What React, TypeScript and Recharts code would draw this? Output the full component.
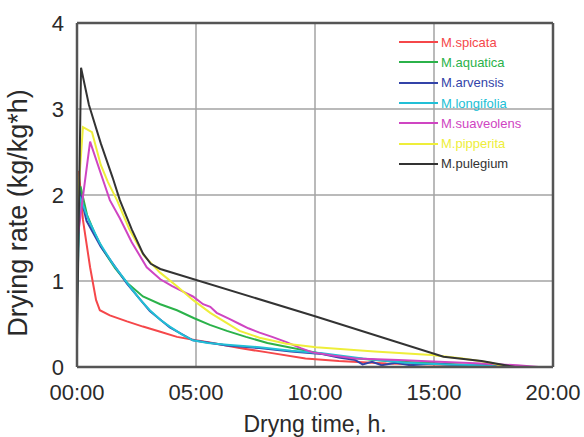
import * as React from 'react';
import {
    CartesianGrid,
    Line,
    LineChart,
    ReferenceLine,
    XAxis,
    YAxis,
} from 'recharts';

// [time in hours, drying rate kg/kg*h]
const spicata: [number, number][] = [
    [0, 1.6], [0.08, 2.28], [0.25, 1.71], [0.55, 1.16], [0.8, 0.78], [0.96, 0.66],
    [1.38, 0.6], [2.1, 0.53], [2.77, 0.47], [3.5, 0.41], [4.2, 0.35], [5.0, 0.31],
    [5.7, 0.28], [6.83, 0.22], [8.0, 0.17], [9.6, 0.1], [11.0, 0.07], [13.0, 0.04],
    [15.0, 0.03], [16.5, 0.02], [18.0, 0.0],
];
const aquatica: [number, number][] = [
    [0, 1.1], [0.15, 2.1], [0.42, 1.77], [0.75, 1.55], [1.1, 1.36], [1.6, 1.15],
    [2.1, 0.98], [2.77, 0.82], [3.5, 0.73], [4.2, 0.66], [4.9, 0.57], [5.58, 0.49],
    [6.3, 0.42], [7.1, 0.35], [8.0, 0.28], [8.9, 0.23], [10.0, 0.17], [11.0, 0.12],
    [13.0, 0.07], [15.2, 0.04], [16.8, 0.02], [18.0, 0.0],
];
const arvensis: [number, number][] = [
    [0, 1.5], [0.1, 2.05], [0.4, 1.7], [1.0, 1.4], [2.1, 0.97], [3.06, 0.65],
    [3.9, 0.46], [4.87, 0.31], [6.3, 0.25], [7.67, 0.22], [9.0, 0.18], [10.3, 0.15],
    [11.0, 0.11], [11.7, 0.08], [12.0, 0.03], [12.4, 0.06], [12.8, 0.02], [13.4, 0.05],
    [14.0, 0.02], [15.0, 0.04], [16.0, 0.02], [17.0, 0.03], [18.0, 0.0],
];
const longifolia: [number, number][] = [
    [0, 0.8], [0.12, 1.98], [0.5, 1.7], [0.96, 1.44], [1.5, 1.2], [2.1, 0.98],
    [2.6, 0.8], [3.06, 0.66], [3.5, 0.55], [3.9, 0.47], [4.4, 0.38], [4.87, 0.31],
    [5.5, 0.28], [6.3, 0.26], [7.67, 0.23], [9.0, 0.19], [10.3, 0.16], [12.0, 0.1],
    [13.8, 0.05], [15.5, 0.03], [17.0, 0.02], [18.0, 0.0],
];
const suaveolens: [number, number][] = [
    [0, 1.44], [0.25, 1.98], [0.55, 2.62], [1.0, 2.25], [1.38, 1.94], [1.8, 1.73],
    [2.3, 1.45], [2.93, 1.16], [3.5, 1.02], [4.0, 0.94], [4.5, 0.87], [4.87, 0.82],
    [5.3, 0.73], [5.6, 0.7], [5.87, 0.63], [6.4, 0.56], [6.83, 0.5], [7.2, 0.45],
    [7.67, 0.4], [8.2, 0.35], [8.8, 0.29], [9.4, 0.22], [9.9, 0.17], [10.8, 0.13],
    [11.7, 0.1], [13.5, 0.08], [15.2, 0.06], [17.0, 0.04], [18.5, 0.02], [19.4, 0.0],
];
const pipperita: [number, number][] = [
    [0, 1.8], [0.25, 2.79], [0.63, 2.73], [1.0, 2.35], [1.3, 2.15], [1.68, 1.94],
    [2.2, 1.6], [2.8, 1.3], [3.48, 1.1], [4.2, 0.94], [4.87, 0.78], [5.6, 0.63],
    [6.3, 0.51], [6.83, 0.42], [7.67, 0.34], [8.8, 0.27], [10.05, 0.23], [12.5, 0.18],
    [14.9, 0.14], [16.2, 0.1], [17.4, 0.05], [18.0, 0.0],
];
const pulegium: [number, number][] = [
    [0, 0.3], [0.17, 3.48], [0.5, 3.05], [1.0, 2.6], [1.5, 2.2], [1.8, 1.94],
    [2.3, 1.6], [2.77, 1.32], [3.1, 1.2], [3.5, 1.14], [10.0, 0.59], [15.4, 0.12],
    [17.0, 0.07], [18.4, 0.0],
];

const SERIES = [
    { name: 'M.spicata', color: '#f5474a', points: spicata },
    { name: 'M.aquatica', color: '#2bb24a', points: aquatica },
    { name: 'M.arvensis', color: '#3343a8', points: arvensis },
    { name: 'M.longifolia', color: '#22bfd6', points: longifolia },
    { name: 'M.suaveolens', color: '#cf45c2', points: suaveolens },
    { name: 'M.pipperita', color: '#eeee3a', points: pipperita },
    { name: 'M.pulegium', color: '#333333', points: pulegium },
];

const X_TICKS = [0, 5, 10, 15, 20];
const X_TICK_LABELS = ['00:00', '05:00', '10:00', '15:00', '20:00'];
const Y_TICKS = [0, 1, 2, 3, 4];

const FONT = '"Liberation Sans", Arial, sans-serif';
const TEXT = '#2a2a2a';

function YTitle(props: any) {
    const vb = props.viewBox || { x: 0, y: 0, width: 0, height: 0 };
    const cx = 18;
    const cy = vb.y + vb.height / 2 + 18;
    return (
        <text
            x={cx}
            y={cy}
            transform={`rotate(-90, ${cx}, ${cy})`}
            textAnchor="middle"
            dominantBaseline="central"
            fontSize={27}
            fill={TEXT}
            fontFamily={FONT}
        >
            Drying rate (kg/kg*h)
        </text>
    );
}

function MintLegend() {
    return (
        <div
            style={{
                position: 'absolute',
                left: 399,
                top: 32,
                fontFamily: FONT,
                fontSize: 13,
                pointerEvents: 'none',
            }}
        >
            {SERIES.map((s) => (
                <div
                    key={s.name}
                    style={{ display: 'flex', alignItems: 'center', height: 20.3, color: s.color }}
                >
                    <span
                        style={{
                            display: 'inline-block',
                            width: 39,
                            height: 2,
                            background: s.color,
                            marginRight: 3,
                        }}
                    />
                    {s.name}
                </div>
            ))}
        </div>
    );
}

export default function App() {
    const lines = React.useMemo(
        () =>
            SERIES.map((s) => ({
                ...s,
                data: s.points.map(([t, v]) => ({ t, v })),
            })),
        []
    );

    return (
        <div style={{ position: 'absolute', left: 0, top: 0, width: 584, height: 437, background: '#fff' }}>
            <LineChart
                width={584}
                height={437}
                margin={{ top: 23, right: 31, bottom: 0, left: 0 }}
                style={{ fontFamily: FONT }}
            >
                <CartesianGrid stroke="#a3a3a3" strokeWidth={1.5} />
                <XAxis
                    type="number"
                    dataKey="t"
                    domain={[0, 20]}
                    ticks={X_TICKS}
                    tickFormatter={(v) => X_TICK_LABELS[X_TICKS.indexOf(v)] ?? ''}
                    height={70}
                    tickLine={false}
                    tickSize={4}
                    tickMargin={13}
                    axisLine={{ stroke: '#555', strokeWidth: 2.5 }}
                    tick={{ fontSize: 22, fill: TEXT }}
                    allowDuplicatedCategory={false}
                    label={{
                        value: 'Dryng time, h.',
                        position: 'insideBottom',
                        offset: 5,
                        fontSize: 23,
                        fill: TEXT,
                    }}
                />
                <YAxis
                    type="number"
                    domain={[0, 4]}
                    ticks={Y_TICKS}
                    width={77}
                    tickLine={false}
                    tickSize={4}
                    tickMargin={9}
                    axisLine={{ stroke: '#555', strokeWidth: 2.5 }}
                    tick={{ fontSize: 22, fill: TEXT }}
                    label={<YTitle />}
                />
                <ReferenceLine x={20} stroke="#555" strokeWidth={2.5} />
                <ReferenceLine y={4} stroke="#555" strokeWidth={2.5} />
                {lines.map((s) => (
                    <Line
                        key={s.name}
                        data={s.data}
                        dataKey="v"
                        name={s.name}
                        type="linear"
                        stroke={s.color}
                        strokeWidth={2}
                        dot={false}
                        isAnimationActive={false}
                    />
                ))}
            </LineChart>
            <MintLegend />
        </div>
    );
}
